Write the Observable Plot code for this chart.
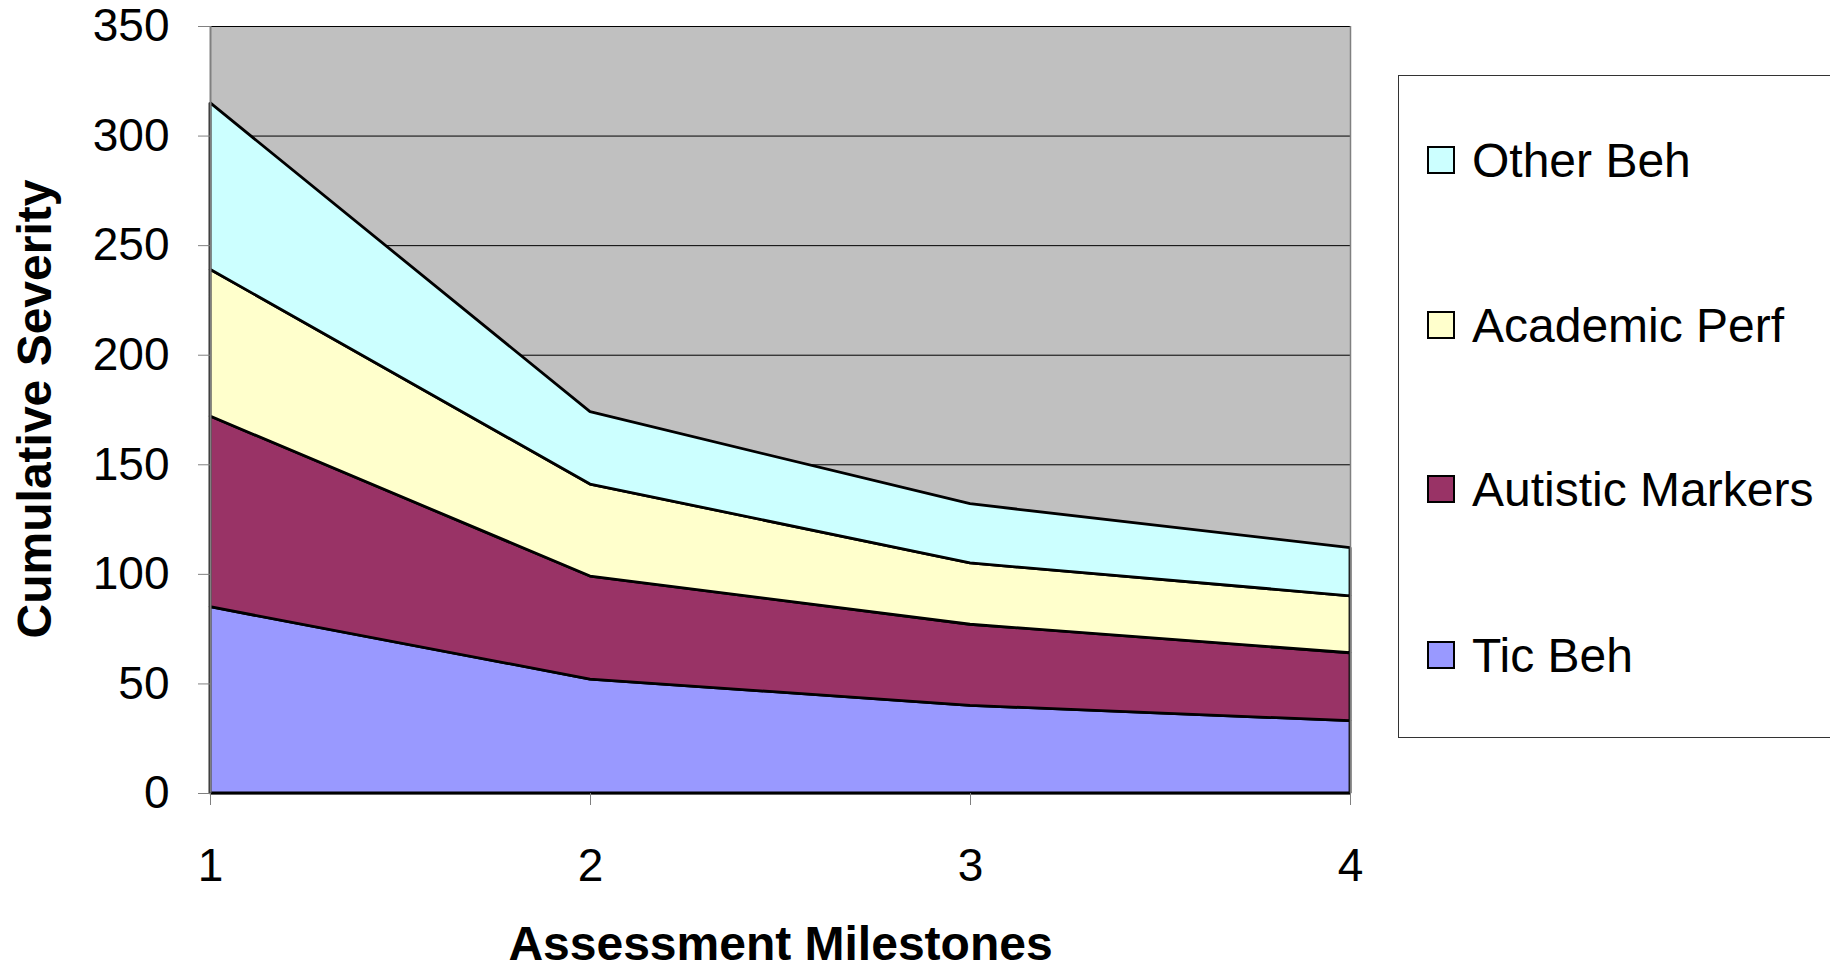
<!DOCTYPE html>
<html><head><meta charset="utf-8">
<script src="https://cdn.jsdelivr.net/npm/d3@7"></script>
<script src="https://cdn.jsdelivr.net/npm/@observablehq/plot@0.6"></script>
<style>
body{margin:0;background:#fff;font-family:"Liberation Sans",Arial,sans-serif;}
#wrap{position:relative;width:1830px;height:969px;overflow:hidden;}
#legend{position:absolute;left:1398px;top:75px;width:470px;height:663px;border:1px solid #333;box-sizing:border-box;background:#fff}
.item{position:absolute;left:0;display:flex;align-items:center;font-size:48px;color:#000;height:60px;margin-top:-30px;white-space:nowrap;}
.sw{width:24px;height:24px;border:2px solid #000;margin-left:28px;margin-right:17px}
#ytitle{position:absolute;left:35px;top:409px;transform:translate(-50%,-50%) rotate(-90deg);font-size:48px;font-weight:bold;white-space:nowrap;line-height:1;color:#000}
</style>
</head><body>
<div id="wrap"></div>
<script>
const milestones = [1, 2, 3, 4];
const seriesNames = ["Tic Beh", "Autistic Markers", "Academic Perf", "Other Beh"];
const ticBeh = [85, 52, 40, 33];
const autisticMarkers = [87, 47, 37, 31];
const academicPerf = [67, 42, 28, 26];
const otherBeh = [76, 33, 27, 22];
const seriesColors = ["#9999FF", "#993366", "#FFFFCC", "#CCFFFF"];
const yTicks = [0, 50, 100, 150, 200, 250, 300, 350];
const xTitle = "Assessment Milestones";
const yTitle = "Cumulative Severity";

const seriesValues = [ticBeh, autisticMarkers, academicPerf, otherBeh];
const rows = [];
seriesNames.forEach((s, i) => milestones.forEach((m, j) => rows.push({series: s, milestone: m, value: seriesValues[i][j]})));

const chart = Plot.plot({
  width: 1830, height: 969,
  marginLeft: 210, marginRight: 480, marginTop: 26, marginBottom: 176,
  x: {domain: [1, 4]},
  y: {domain: [0, 350]},
  color: {domain: seriesNames, range: seriesColors},
  style: {fontFamily: "'Liberation Sans', Arial, sans-serif", background: "transparent", color: "#000"},
  marks: [
    Plot.frame({fill: "#C0C0C0", stroke: null}),
    Plot.gridY(yTicks, {stroke: "#000", strokeOpacity: 1, strokeWidth: 1}),
    Plot.areaY(rows, {x: "milestone", y: "value", fill: "series", z: "series", order: seriesNames, stroke: "#000", strokeWidth: 2.8, strokeLinejoin: "miter"}),
    Plot.ruleX([4], {stroke: "#808080", strokeWidth: 1.5}),
    Plot.ruleX([1], {stroke: "#808080", strokeWidth: 2}),
    Plot.ruleY([0], {stroke: "#000", strokeWidth: 1.5}),
    Plot.axisY({ticks: yTicks, tickSize: 12, tickPadding: 29, stroke: "#808080", fontSize: 46, label: null}),
    Plot.axisX({ticks: milestones, tickSize: 12, tickPadding: 43, tickFormat: "d", stroke: "#808080", fontSize: 46, label: null}),
    Plot.text([xTitle], {frameAnchor: "bottom", lineAnchor: "top", dy: 132, fontSize: 48, fontWeight: "bold"})
  ]
});
const wrap = document.getElementById("wrap");
wrap.appendChild(chart);

const yt = document.createElement("div");
yt.id = "ytitle";
yt.textContent = yTitle;
wrap.appendChild(yt);

const legend = document.createElement("div");
legend.id = "legend";
const legendCenters = [84, 249, 413, 579];
const legendOrder = [3, 2, 1, 0];
legendOrder.forEach((idx, k) => {
  const it = document.createElement("div");
  it.className = "item";
  it.style.top = legendCenters[k] + "px";
  const sw = document.createElement("span");
  sw.className = "sw";
  sw.style.background = seriesColors[idx];
  const tx = document.createElement("span");
  tx.textContent = seriesNames[idx];
  it.appendChild(sw); it.appendChild(tx);
  legend.appendChild(it);
});
wrap.appendChild(legend);
</script>
</body></html>
